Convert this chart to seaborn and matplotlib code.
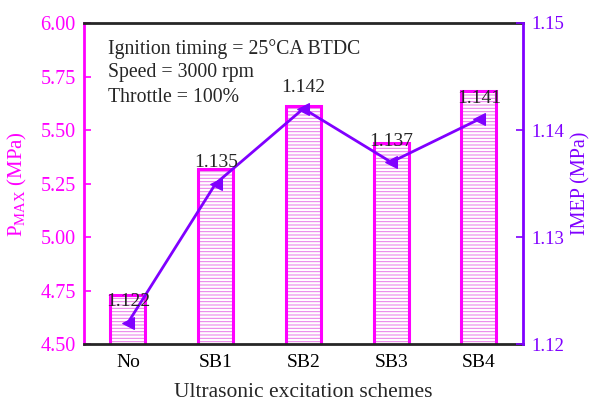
import matplotlib
matplotlib.use("Agg")
import matplotlib.pyplot as plt
import seaborn as sns
import pandas as pd

categories = ["No", "SB1", "SB2", "SB3", "SB4"]
pmax = [4.73, 5.32, 5.61, 5.44, 5.68]
imep = [1.122, 1.135, 1.142, 1.137, 1.141]
imep_labels = ["1.122", "1.135", "1.142", "1.137", "1.141"]
conditions = ["Ignition timing = 25°CA BTDC", "Speed = 3000 rpm", "Throttle = 100%"]

MAG = "#ff00ff"
PUR = "#8000ff"

sns.set_style("white")
plt.rcParams["font.family"] = ["Liberation Serif", "DejaVu Serif"]
plt.rcParams["mathtext.fontset"] = "custom"
plt.rcParams["mathtext.rm"] = "Liberation Serif"
plt.rcParams["mathtext.it"] = "Liberation Serif"
plt.rcParams["hatch.linewidth"] = 0.7

df = pd.DataFrame({"scheme": categories, "pmax": pmax, "imep": imep})

fig = plt.figure(figsize=(5.92, 4.03), dpi=100)
ax = fig.add_axes([0.142, 0.146, 0.741, 0.797])

# hatched fill
sns.barplot(data=df, x="scheme", y="pmax", ax=ax, width=0.4, color="white",
            edgecolor="#e878e8", linewidth=0, hatch="-----", saturation=1)
# outline
sns.barplot(data=df, x="scheme", y="pmax", ax=ax, width=0.4, fill=False,
            edgecolor=MAG, linewidth=2.2, saturation=1)

ax.set_ylim(4.5, 6.0)
ax.set_xlim(-0.5, 4.5)
ax.set_yticks([4.5, 4.75, 5.0, 5.25, 5.5, 5.75, 6.0])
ax.set_yticklabels(["4.50", "4.75", "5.00", "5.25", "5.50", "5.75", "6.00"])
ax.tick_params(axis="y", colors=MAG, direction="in", length=5, width=1.2,
               labelsize=14.5, pad=6)
ax.tick_params(axis="x", colors="black", direction="in", length=5, width=1,
               labelsize=14, pad=7)
ax.set_ylabel("P$_{\\mathrm{MAX}}$ (MPa)", color=MAG, fontsize=15, labelpad=8)
ax.set_xlabel("Ultrasonic excitation schemes", fontsize=15.5, labelpad=9)
ax.spines["left"].set_color(MAG)
ax.spines["left"].set_linewidth(2)
ax.spines["bottom"].set_linewidth(2)
ax.spines["top"].set_linewidth(2)
ax.spines["right"].set_visible(False)

for k, line in enumerate(conditions):
    ax.text(0.055, 0.92 - k * 0.0755, line, transform=ax.transAxes,
            fontsize=14.2, va="center", ha="left")

ax2 = ax.twinx()
sns.lineplot(data=df, x="scheme", y="imep", ax=ax2, color=PUR, linewidth=2,
             marker="<", markersize=9, markeredgecolor=PUR, sort=False)
ax2.set_ylim(1.12, 1.15)
ax2.set_yticks([1.12, 1.13, 1.14, 1.15])
ax2.set_yticklabels(["1.12", "1.13", "1.14", "1.15"])
ax2.tick_params(axis="y", colors=PUR, direction="in", length=5, width=1.2,
                labelsize=13.5, pad=6)
ax2.set_ylabel("IMEP (MPa)", color=PUR, fontsize=14.5, labelpad=5)
ax2.spines["right"].set_color(PUR)
ax2.spines["right"].set_linewidth(2)
for s in ["left", "top", "bottom"]:
    ax2.spines[s].set_visible(False)

for i, (v, lab) in enumerate(zip(imep, imep_labels)):
    ax2.annotate(lab, (i, v), xytext=(0, 15), textcoords="offset points",
                 ha="center", va="center", fontsize=14)

fig.savefig("out.png", dpi=100)
